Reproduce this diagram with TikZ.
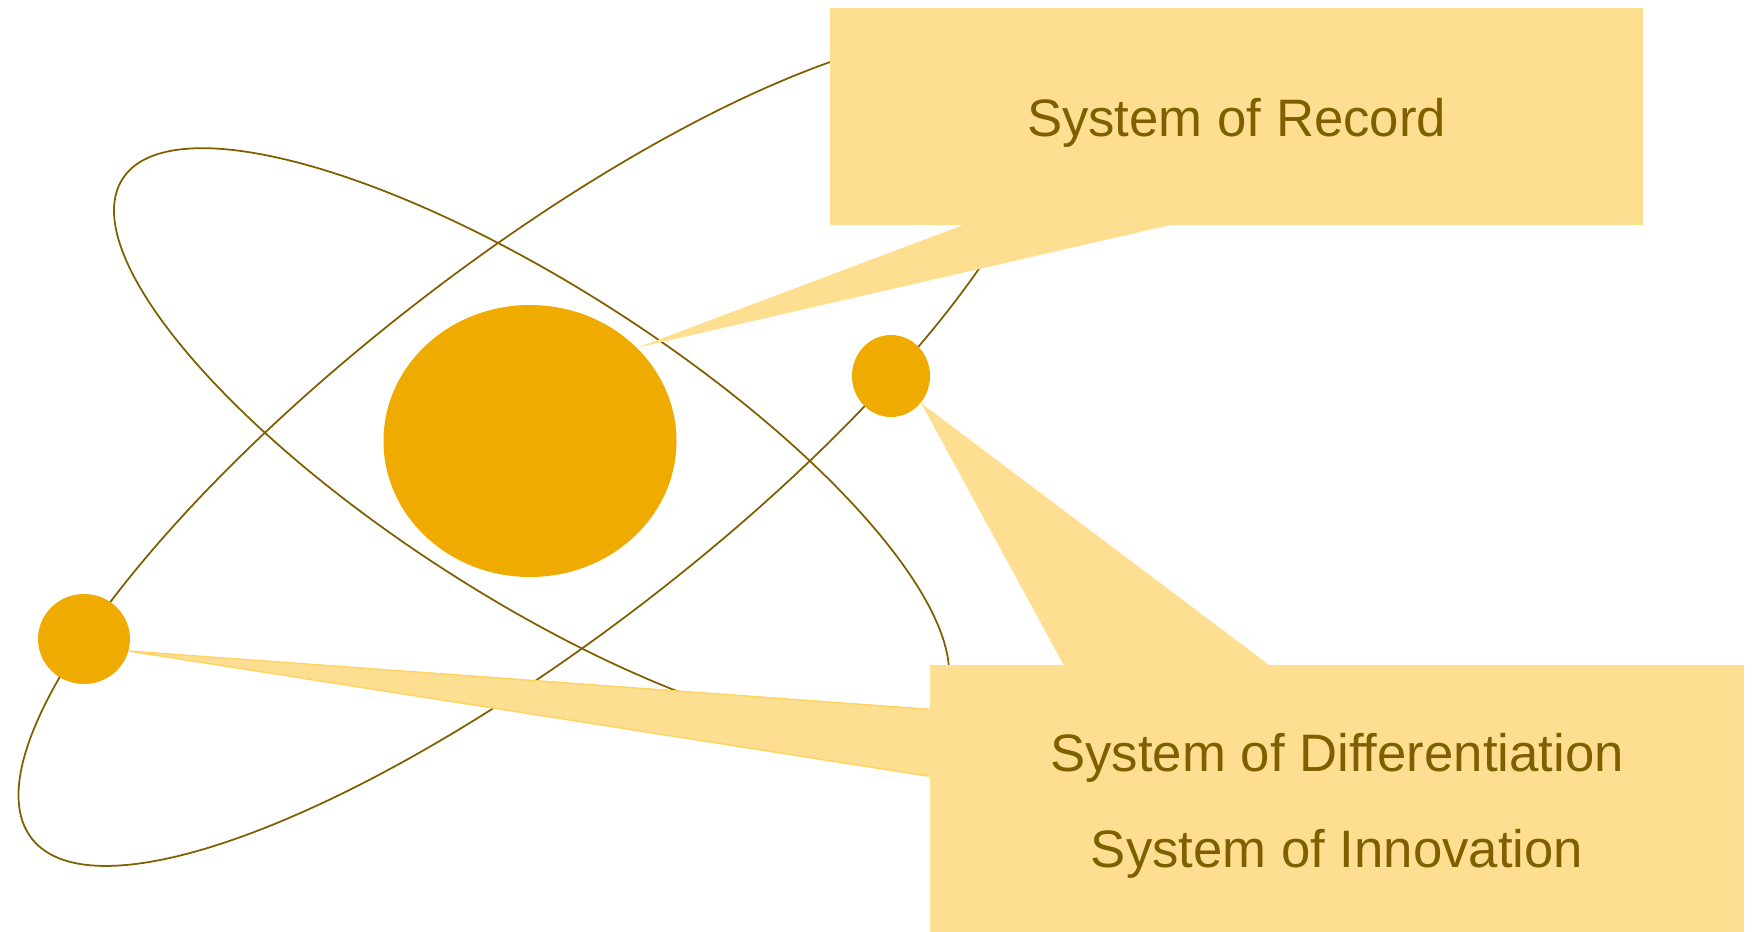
\documentclass[tikz,border=0pt]{standalone}
\usepackage{fontspec}
\setmainfont{Liberation Sans}
\usepackage{tikz}
\usetikzlibrary{shapes.geometric, calc}
\definecolor{gold}{HTML}{EFAB00}
\definecolor{palegold}{HTML}{FEDF91}
\definecolor{goldedge}{HTML}{FFD35F}
\definecolor{bronze}{HTML}{7F6000}
\tikzset{
  % Orbit rings
  orbit/.style={draw=bronze, line width=0.5pt},
  % Nucleus and electrons
  particle/.style={ellipse, fill=gold, inner sep=0pt},
  % Callout boxes
  calloutbox/.style={
    rectangle, fill=palegold, text=bronze, inner sep=0pt,
    align=center, font=\fontsize{15pt}{27.5pt}\selectfont
  },
  % Callout pointers
  pointer/.style={fill=palegold},
  pointeredge/.style={draw=goldedge, line width=0.4pt},
}

\begin{document}
\begin{tikzpicture}
  \useasboundingbox (0,0) rectangle (17.53,9.31);

  % orbits
  \coordinate (core) at (5.34,4.88);
  \draw[orbit] ($(core)+(-0.025,0.016)$) ellipse [x radius=4.86, y radius=1.55, rotate=-32.7];
  \draw[orbit] ($(core)+(0,-0.07)$) ellipse [x radius=6.35, y radius=1.88, rotate=37.7];

  % nucleus and electrons
  \node[particle, minimum width=2.93cm, minimum height=2.72cm] (nucleus) at (5.30,4.90) {};
  \node[particle, minimum width=0.78cm, minimum height=0.82cm] (inner) at (8.91,5.55) {};
  \node[particle, minimum width=0.92cm, minimum height=0.90cm] (outer) at (0.84,2.92) {};

  % callouts (the lower box runs off the bottom edge)
  \node[calloutbox, minimum width=8.13cm, minimum height=2.17cm, text height=11.5pt, text depth=0pt]
    (record) at (12.365,8.145) {System of Record};
  \node[calloutbox, minimum width=8.14cm, minimum height=2.82cm] (innovation) at (13.37,1.25)
    {System of Differentiation\\System of Innovation};

  \coordinate (recordL) at ($(record.south west)+(1.32,0)$);
  \coordinate (recordR) at ($(record.south west)+(3.38,0)$);
  \coordinate (innerL) at ($(innovation.north west)+(1.34,0)$);
  \coordinate (innerR) at ($(innovation.north west)+(3.39,0)$);
  \coordinate (outerT) at ($(innovation.north west)+(0,-0.45)$);
  \coordinate (outerB) at ($(innovation.north west)+(0,-1.12)$);

  \fill[pointer] (nucleus.41) -- ($(nucleus.41)!1.02!(recordL)$) -- ($(nucleus.41)!1.02!(recordR)$) -- cycle;
  \fill[pointer] (inner.-42) -- ($(inner.-42)!1.02!(innerL)$) -- ($(inner.-42)!1.02!(innerR)$) -- cycle;
  \fill[pointer] (outer.-15) -- ($(outer.-15)!1.01!(outerT)$) -- ($(outer.-15)!1.01!(outerB)$) -- cycle;
  \draw[pointeredge] (outerT) -- (outer.-15) -- (outerB);
\end{tikzpicture}
\end{document}
